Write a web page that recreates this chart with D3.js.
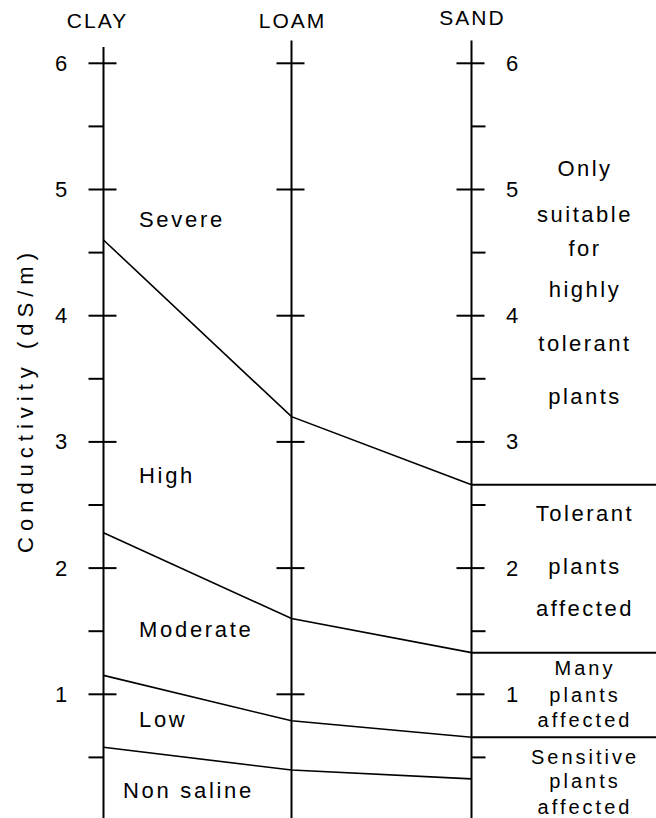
<!DOCTYPE html>
<html>
<head>
<meta charset="utf-8">
<script src="https://cdn.jsdelivr.net/npm/d3@7"></script>
<style>
  body { margin: 0; background: #fff; }
  svg text { font-family: "Liberation Sans", Arial, sans-serif; fill: #000; }
</style>
</head>
<body>
<svg width="656" height="818"></svg>
<script>
// soil columns and tick values
const soils = ["CLAY", "LOAM", "SAND"];
const majorTicks = [1, 2, 3, 4, 5, 6];
const minorTicks = [0.5, 1.5, 2.5, 3.5, 4.5, 5.5];

// class boundaries in dS/m, read on CLAY, LOAM, SAND
const severeHigh = [4.6, 3.2, 2.66];
const highModerate = [2.28, 1.6, 1.33];
const moderateLow = [1.15, 0.79, 0.66];
const lowNonSaline = [0.58, 0.4, 0.33];

// salinity class names (left) and plant response (right)
const clayLabels = ["Severe", "High", "Moderate", "Low", "Non saline"];
const clayLabelValues = [4.76, 2.73, 1.51, 0.8, 0.24];
const sandLabels = ["Only", "suitable", "for", "highly", "tolerant", "plants",
  "Tolerant", "plants", "affected",
  "Many", "plants", "affected",
  "Sensitive", "plants", "affected"];
const sandLabelValues = [5.17, 4.80, 4.53, 4.21, 3.78, 3.36,
  2.43, 2.01, 1.68,
  1.21, 0.995, 0.80,
  0.50, 0.31, 0.11];

const svg = d3.select('svg');
const width = +svg.attr('width');
const height = +svg.attr('height');

const y = d3.scaleLinear().domain([0, 6]).range([820.5, 63.3]);
const x = d3.scaleOrdinal().domain(soils).range([103.5, 291.5, 471.5]);

// vertical axes
svg.selectAll('line.axis')
  .data(soils)
  .join('line')
  .attr('class', 'axis')
  .attr('x1', d => x(d)).attr('x2', d => x(d))
  .attr('y1', d => d == "CLAY" ? y(6.13) : y(6.18))
  .attr('y2', height)
  .attr('stroke', '#000')
  .attr('stroke-width', 2);

// major ticks cross every axis
soils.forEach(function(s) {
  svg.append('g').selectAll('line')
    .data(majorTicks)
    .join('line')
    .attr('x1', x(s) - 15).attr('x2', x(s) + 13)
    .attr('y1', d => y(d)).attr('y2', d => y(d))
    .attr('stroke', '#000')
    .attr('stroke-width', 2);
});

// half ticks: left of CLAY, right of SAND
svg.append('g').selectAll('line')
  .data(minorTicks)
  .join('line')
  .attr('x1', x("CLAY") - 15).attr('x2', x("CLAY"))
  .attr('y1', d => y(d)).attr('y2', d => y(d))
  .attr('stroke', '#000').attr('stroke-width', 2);

svg.append('g').selectAll('line')
  .data(minorTicks)
  .join('line')
  .attr('x1', x("SAND")).attr('x2', x("SAND") + 14)
  .attr('y1', d => y(d)).attr('y2', d => y(d))
  .attr('stroke', '#000').attr('stroke-width', 2);

// tick labels
svg.append('g').selectAll('text')
  .data(majorTicks)
  .join('text')
  .attr('x', 61)
  .attr('y', d => y(d))
  .attr('text-anchor', 'middle')
  .attr('dominant-baseline', 'central')
  .style('font-size', '22px')
  .text(d => d);

svg.append('g').selectAll('text')
  .data(majorTicks)
  .join('text')
  .attr('x', 512)
  .attr('y', d => y(d))
  .attr('text-anchor', 'middle')
  .attr('dominant-baseline', 'central')
  .style('font-size', '22px')
  .text(d => d);

// column headers
svg.append('g').selectAll('text')
  .data(soils)
  .join('text')
  .attr('x', d => d == "CLAY" ? x(d) - 6 : x(d) + 1)
  .attr('y', d => d == "SAND" ? 25 : 28)
  .attr('text-anchor', 'middle')
  .style('font-size', '21px')
  .style('letter-spacing', '2px')
  .text(d => d);

// y axis title
svg.append('text')
  .attr('transform', 'translate(33,400) rotate(-90)')
  .attr('text-anchor', 'middle')
  .style('font-size', '22px')
  .style('letter-spacing', '6px')
  .text('Conductivity (dS/m)');

// boundary lines between classes
const boundaries = [severeHigh, highModerate, moderateLow, lowNonSaline];
const line = d3.line()
  .x((d, i) => x(soils[i]))
  .y(d => y(d));

svg.append('g').selectAll('path')
  .data(boundaries)
  .join('path')
  .attr('d', d => line(d))
  .attr('fill', 'none')
  .attr('stroke', '#000')
  .attr('stroke-width', 1.6);

// the upper three continue across the plant column
svg.append('g').selectAll('line')
  .data(boundaries.slice(0, 3))
  .join('line')
  .attr('x1', x("SAND")).attr('x2', width)
  .attr('y1', d => y(d[2])).attr('y2', d => y(d[2]))
  .attr('stroke', '#000')
  .attr('stroke-width', 2);

// class names
svg.append('g').selectAll('text')
  .data(clayLabels)
  .join('text')
  .attr('x', (d, i) => d == "Non saline" ? 123 : 139)
  .attr('y', (d, i) => y(clayLabelValues[i]))
  .attr('dominant-baseline', 'central')
  .style('font-size', '22px')
  .style('letter-spacing', '2.7px')
  .text(d => d);

// plant response notes; the two lowest bands are set tighter
svg.append('g').selectAll('text')
  .data(sandLabels)
  .join('text')
  .attr('x', 585)
  .attr('y', (d, i) => y(sandLabelValues[i]))
  .attr('text-anchor', 'middle')
  .attr('dominant-baseline', 'central')
  .style('font-size', (d, i) => i >= 9 ? '20px' : '22px')
  .style('letter-spacing', (d, i) => i >= 9 ? '3px' : '2.5px')
  .text(d => d);
</script>
</body>
</html>
